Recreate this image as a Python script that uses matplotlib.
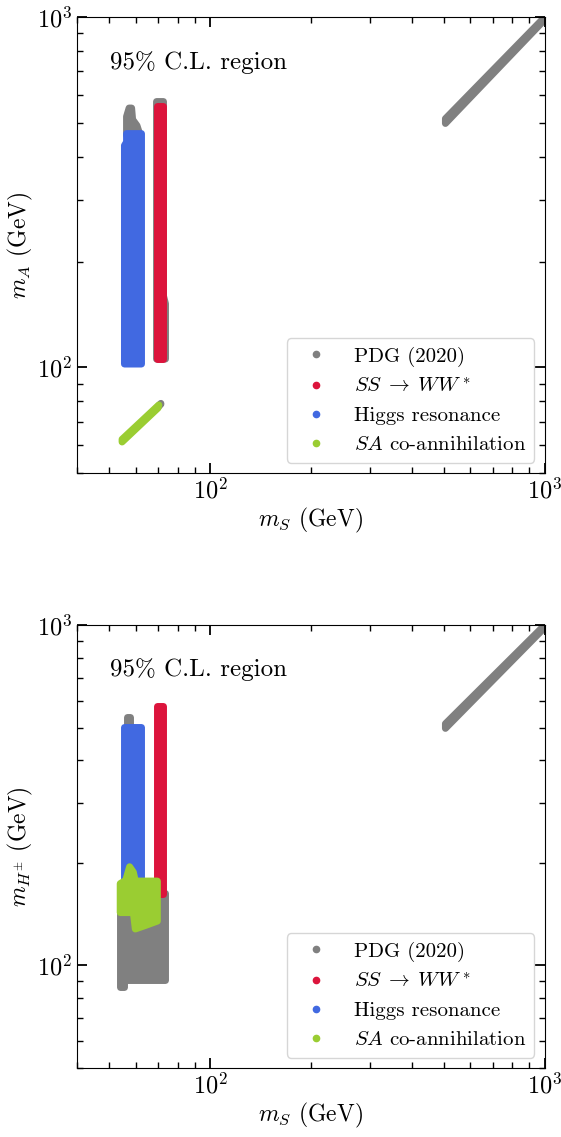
import matplotlib
matplotlib.use('Agg')
import matplotlib.pyplot as plt
from matplotlib.lines import Line2D

plt.rcParams['font.family'] = 'serif'
plt.rcParams['font.serif'] = ['cmr10', 'DejaVu Serif']
plt.rcParams['mathtext.fontset'] = 'cm'
plt.rcParams['axes.formatter.use_mathtext'] = True
plt.rcParams['axes.unicode_minus'] = False

labels = ['PDG (2020)', r'$SS\;\to\;WW^*$', 'Higgs resonance', r'$SA$ co-annihilation']
colors = ['gray', 'crimson', 'royalblue', 'yellowgreen']

# region outlines (GeV), upper panel: m_S vs m_A
top_pdg_diag_mS = [505, 1000, 1000, 505]
top_pdg_diag_mA = [497, 983, 1000, 513]
top_pdg_cap_mS = [56.3, 56.3, 57.3, 58.3, 58.7, 60.5, 61.8]
top_pdg_cap_mA = [460, 520, 550, 550, 510, 490, 460]
top_pdg_ww_mS = [69.2, 73.6, 73.6, 72.6, 72.6, 69.2]
top_pdg_ww_mA = [105.7, 105.7, 152, 160, 574, 574]
top_pdg_tip_mS = [69.0, 71.3, 71.3, 69.0]
top_pdg_tip_mA = [76.0, 78.6, 79.0, 76.4]
top_ww_mS = [69.2, 72.6, 72.6, 69.2]
top_ww_mA = [105.7, 105.7, 558, 558]
top_higgs_mS = [55.5, 62.4, 62.4, 56.3, 56.3, 55.5]
top_higgs_mA = [102.3, 102.3, 465, 465, 440, 430]
top_coann_mS = [54.6, 69.9, 70.3, 54.6]
top_coann_mA = [61.3, 76.6, 78.2, 62.4]

# lower panel: m_S vs m_H+-
bot_pdg_diag_mS = [505, 1000, 1000, 505]
bot_pdg_diag_mH = [497, 983, 1000, 513]
bot_pdg_block_mS = [53.9, 55.3, 55.3, 73.6, 73.6, 53.9]
bot_pdg_block_mH = [86.5, 86.5, 90.6, 90.6, 163, 163]
bot_pdg_cap_mS = [56.6, 57.8, 57.8, 56.6]
bot_pdg_cap_mH = [450, 450, 537, 537]
bot_ww_mS = [69.2, 72.6, 72.6, 69.2]
bot_ww_mH = [162, 162, 580, 580]
bot_higgs_mS = [55.5, 62.4, 62.4, 55.5]
bot_higgs_mH = [150, 150, 503, 503]
bot_coann_mS = [53.9, 53.9, 56, 57.5, 59, 59.8, 69.6, 69.6, 64, 59.8, 59.0]
bot_coann_mH = [143, 174, 178, 195, 188, 177, 177, 135, 131, 128, 143]

fig = plt.figure(figsize=(5.61, 11.37), dpi=100)
ax1 = fig.add_axes([0.137, 0.584, 0.834, 0.401])
ax2 = fig.add_axes([0.137, 0.0607, 0.834, 0.3896])

top_regions = [
    (top_pdg_diag_mS, top_pdg_diag_mA, colors[0]),
    (top_pdg_cap_mS, top_pdg_cap_mA, colors[0]),
    (top_pdg_ww_mS, top_pdg_ww_mA, colors[0]),
    (top_pdg_tip_mS, top_pdg_tip_mA, colors[0]),
    (top_ww_mS, top_ww_mA, colors[1]),
    (top_higgs_mS, top_higgs_mA, colors[2]),
    (top_coann_mS, top_coann_mA, colors[3]),
]
bot_regions = [
    (bot_pdg_diag_mS, bot_pdg_diag_mH, colors[0]),
    (bot_pdg_block_mS, bot_pdg_block_mH, colors[0]),
    (bot_pdg_cap_mS, bot_pdg_cap_mH, colors[0]),
    (bot_ww_mS, bot_ww_mH, colors[1]),
    (bot_higgs_mS, bot_higgs_mH, colors[2]),
    (bot_coann_mS, bot_coann_mH, colors[3]),
]

handles = [Line2D([], [], ls='', marker='o', markersize=4.5, color=c) for c in colors]

for ax, regions, ylab in [(ax1, top_regions, r'$m_A$ (GeV)'),
                          (ax2, bot_regions, r'$m_{H^{\pm}}$ (GeV)')]:
    for xs, ys, c in regions:
        for p in ax.fill(xs, ys, facecolor=c, edgecolor=c, lw=5):
            p.set_joinstyle('round')
    ax.set_xscale('log')
    ax.set_yscale('log')
    ax.set_xlim(40, 1000)
    ax.set_ylim(50, 1000)
    ax.tick_params(which='both', direction='in', top=True, right=True, labelsize=17.5)
    ax.tick_params(which='major', length=7, width=1.3)
    ax.tick_params(which='minor', length=4, width=1)
    ax.set_xlabel(r'$m_S$ (GeV)', fontsize=17, labelpad=2)
    ax.set_ylabel(ylab, fontsize=17, labelpad=1)
    ax.text(0.07, 0.9, '95% C.L. region', transform=ax.transAxes, fontsize=18, va='center')
    ax.legend(handles, labels, loc='lower right', fontsize=15)

plt.savefig('out.png', dpi=100)
